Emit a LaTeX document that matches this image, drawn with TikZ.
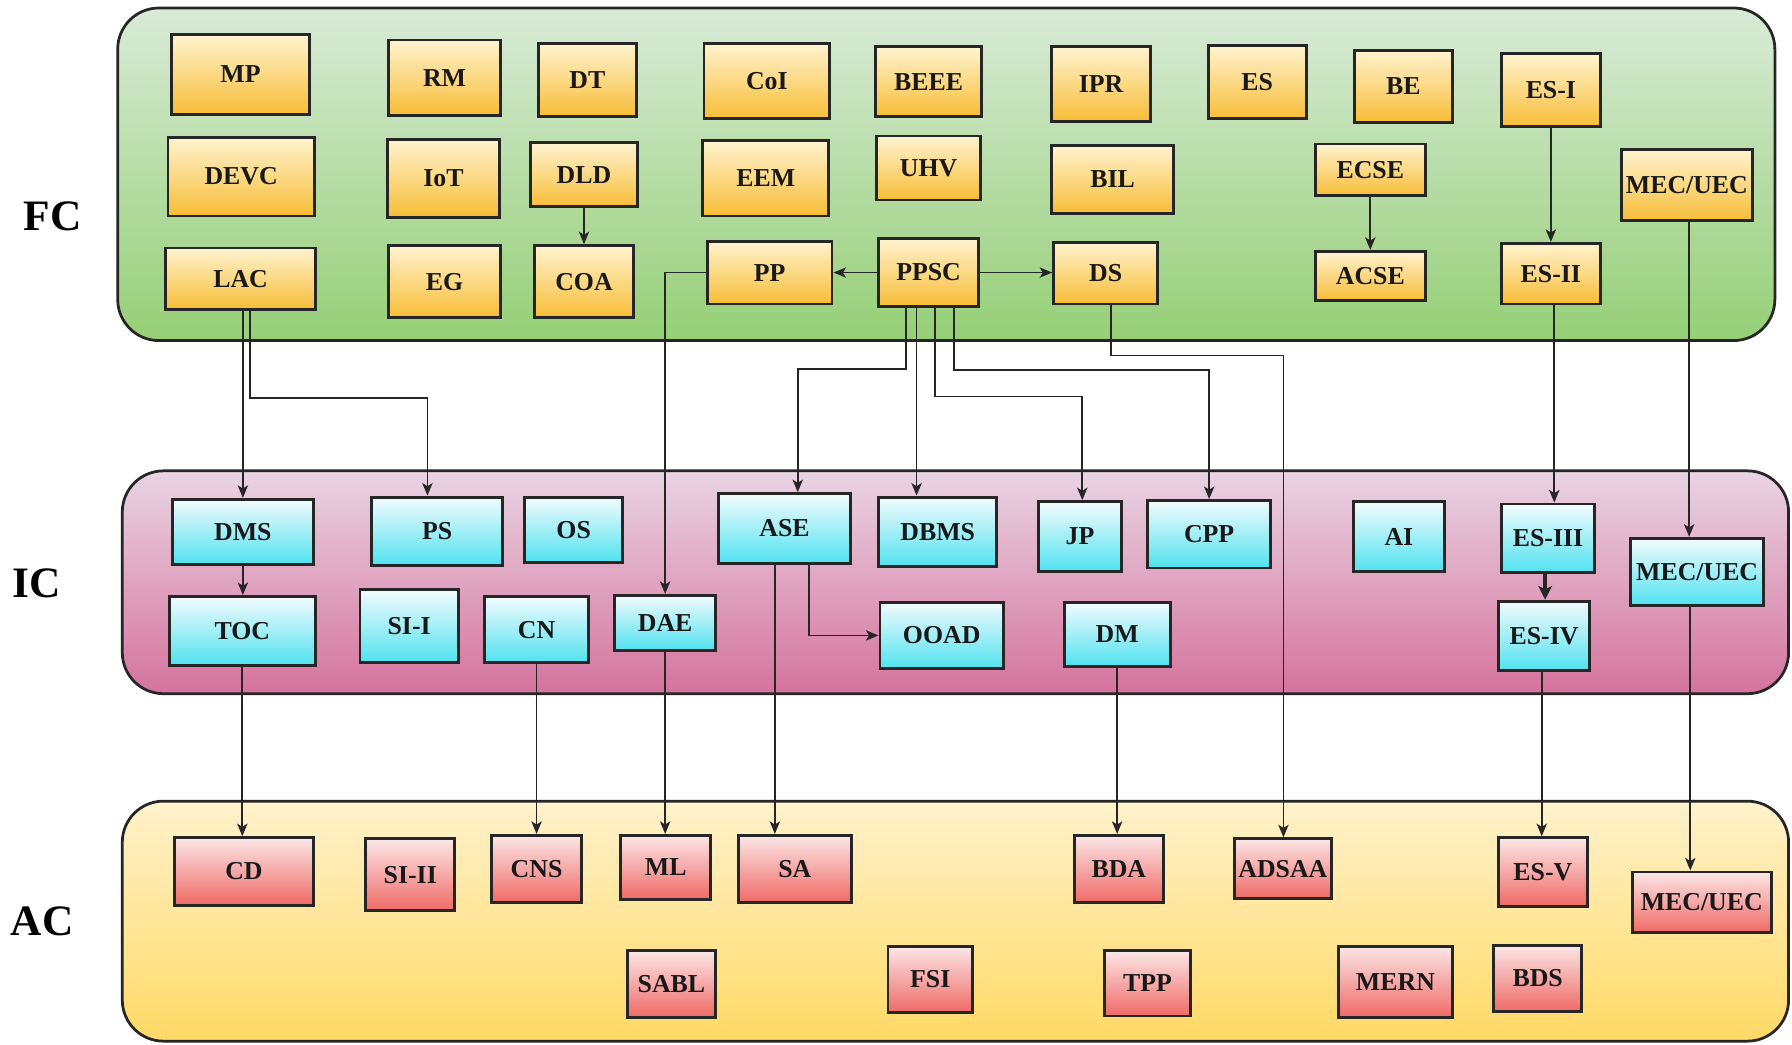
\documentclass[tikz,border=0pt]{standalone}
\usepackage{fontspec}
\setmainfont{Liberation Serif}
\usetikzlibrary{arrows.meta,calc}
\definecolor{fctop}{HTML}{FFF3CF}
\definecolor{fcbot}{HTML}{F7BD36}
\definecolor{ictop}{HTML}{F2FBFD}
\definecolor{icbot}{HTML}{50E2EF}
\definecolor{actop}{HTML}{FBE6E6}
\definecolor{acbot}{HTML}{EF6A66}
\definecolor{pfctop}{HTML}{D9EBD7}
\definecolor{pfcbot}{HTML}{95CF76}
\definecolor{pictop}{HTML}{E9D4E3}
\definecolor{picbot}{HTML}{D5739D}
\definecolor{pactop}{HTML}{FFF2CC}
\definecolor{pacbot}{HTML}{FFD966}
\definecolor{edge}{HTML}{262626}
\tikzset{
  x=0.5pt, y=-0.5pt,
  box/.style={draw=edge, line width=1.3pt, inner sep=0pt, text=black!90,
    font=\bfseries\fontsize{11.3}{13}\selectfont},
  fcb/.style={box, top color=fctop, bottom color=fcbot},
  icb/.style={box, top color=ictop, bottom color=icbot},
  acb/.style={box, top color=actop, bottom color=acbot},
  panel/.style={draw=edge, line width=1.2pt, rounded corners=18pt, inner sep=0pt},
  pfc/.style={panel, top color=pfctop, bottom color=pfcbot},
  pic/.style={panel, top color=pictop, bottom color=picbot},
  pac/.style={panel, top color=pactop, bottom color=pacbot},
  lab/.style={font=\bfseries\fontsize{19}{22}\selectfont, inner sep=0pt},
  arr/.style={draw=edge, line width=0.8pt, -{Stealth[length=5.5pt,width=4.5pt,inset=1.4pt]}},
  arrthick/.style={draw=edge, line width=1.8pt, -{Stealth[length=6pt,width=6pt,inset=1.5pt]}},
}
\newcommand\Bx[7]{\node[#1, minimum width={(#5-#3)*0.5pt}, minimum height={(#6-#4)*0.5pt}] (#2) at ({(#3+#5)/2},{(#4+#6)/2}) {#7};}
\begin{document}
\begin{tikzpicture}
\useasboundingbox (0,0) rectangle (1568,914);
\fill[white] (0,0) rectangle (1568,914);
% panels
\Bx{pfc}{fcp}{103}{7}{1553}{298}{}
\Bx{pic}{icp}{107}{412}{1565}{607}{}
\Bx{pac}{acp}{107}{701}{1565}{911}{}
\node[lab] (lfc) at (46,189) {FC};
\node[lab] (lic) at (32,510) {IC};
\node[lab] (lac2) at (37,806) {AC};
% FC boxes
\Bx{fcb}{mp}{150}{30}{271}{100}{MP}
\Bx{fcb}{rm}{340}{35}{438}{101}{RM}
\Bx{fcb}{dt}{471}{38}{557}{102}{DT}
\Bx{fcb}{coi}{616}{38}{726}{104}{CoI}
\Bx{fcb}{beee}{766}{41}{859}{102}{BEEE}
\Bx{fcb}{ipr}{920}{41}{1007}{106}{IPR}
\Bx{fcb}{es}{1057}{40}{1143}{104}{ES}
\Bx{fcb}{be}{1185}{44}{1271}{107}{BE}
\Bx{fcb}{esi}{1314}{47}{1400}{111}{ES-I}
\Bx{fcb}{devc}{147}{120}{275}{189}{DEVC}
\Bx{fcb}{iot}{339}{122}{437}{190}{IoT}
\Bx{fcb}{dld}{464}{125}{558}{181}{DLD}
\Bx{fcb}{eem}{615}{123}{725}{189}{EEM}
\Bx{fcb}{uhv}{767}{119}{858}{175}{UHV}
\Bx{fcb}{bil}{920}{127}{1027}{187}{BIL}
\Bx{fcb}{ecse}{1151}{126}{1247}{171}{ECSE}
\Bx{fcb}{mecf}{1419}{131}{1533}{193}{MEC/UEC}
\Bx{fcb}{lac}{145}{217}{276}{271}{LAC}
\Bx{fcb}{eg}{340}{215}{438}{278}{EG}
\Bx{fcb}{coa}{468}{215}{554}{278}{COA}
\Bx{fcb}{pp}{619}{211}{728}{266}{PP}
\Bx{fcb}{ppsc}{769}{209}{856}{268}{PPSC}
\Bx{fcb}{ds}{922}{212}{1013}{266}{DS}
\Bx{fcb}{acse}{1151}{220}{1247}{263}{ACSE}
\Bx{fcb}{esii}{1314}{213}{1400}{266}{ES-II}
% IC boxes
\Bx{icb}{dms}{151}{437}{274}{494}{DMS}
\Bx{icb}{ps}{325}{435}{440}{495}{PS}
\Bx{icb}{os}{459}{435}{545}{492}{OS}
\Bx{icb}{toc}{148}{522}{276}{582}{TOC}
\Bx{icb}{sii}{315}{516}{401}{580}{SI-I}
\Bx{icb}{cn}{424}{522}{515}{580}{CN}
\Bx{icb}{dae}{538}{521}{626}{569}{DAE}
\Bx{icb}{ase}{629}{432}{744}{493}{ASE}
\Bx{icb}{dbms}{769}{435}{872}{496}{DBMS}
\Bx{icb}{jp}{909}{439}{981}{500}{JP}
\Bx{icb}{cpp}{1004}{438}{1112}{497}{CPP}
\Bx{icb}{ooad}{770}{527}{878}{585}{OOAD}
\Bx{icb}{dm}{931}{527}{1024}{583}{DM}
\Bx{icb}{ai}{1184}{439}{1264}{500}{AI}
\Bx{icb}{esiii}{1314}{441}{1395}{501}{ES-III}
\Bx{icb}{esiv}{1311}{526}{1391}{587}{ES-IV}
\Bx{icb}{meci}{1427}{471}{1543}{530}{MEC/UEC}
% AC boxes
\Bx{acb}{cd}{153}{733}{274}{792}{CD}
\Bx{acb}{siii}{320}{734}{398}{797}{SI-II}
\Bx{acb}{cns}{430}{731}{509}{790}{CNS}
\Bx{acb}{ml}{543}{731}{622}{787}{ML}
\Bx{acb}{sa}{646}{731}{745}{790}{SA}
\Bx{acb}{bda}{940}{731}{1018}{790}{BDA}
\Bx{acb}{adsaa}{1080}{734}{1165}{786}{ADSAA}
\Bx{acb}{esv}{1311}{733}{1389}{793}{ES-V}
\Bx{acb}{meca}{1428}{763}{1550}{816}{MEC/UEC}
\Bx{acb}{sabl}{549}{832}{626}{890}{SABL}
\Bx{acb}{fsi}{777}{828}{851}{886}{FSI}
\Bx{acb}{tpp}{966}{832}{1042}{889}{TPP}
\Bx{acb}{mern}{1171}{828}{1271}{890}{MERN}
\Bx{acb}{bds}{1307}{827}{1384}{885}{BDS}
% bend coordinates
\coordinate (c1) at (219,348); \coordinate (c2) at (374,348);
\coordinate (c3) at (793,323); \coordinate (c4) at (698,323);
\coordinate (c5) at (802,400);
\coordinate (c6) at (818,347); \coordinate (c7) at (947,347);
\coordinate (c8) at (835,324); \coordinate (c9) at (1058,324);
\coordinate (c10) at (972,311); \coordinate (c11) at (1123,311);
\coordinate (c12) at (708,556);
\coordinate (c13) at (678,600);
\coordinate (c14) at (1360,350);
\coordinate (c15) at (1478,350);
\coordinate (c16) at (1352,510);
\coordinate (c17) at (1349,650);
\coordinate (c18) at (1479,650);
% FC internal
\draw[arr] (dld.south) -- (dld.south |- coa.north);
\draw[arr] (ecse.south) -- (ecse.south |- acse.north);
\draw[arr] (esi.south) -- (esi.south |- esii.north);
\draw[arr] (ppsc.west) -- (ppsc.west -| pp.east);
\draw[arr] (ppsc.east) -- (ppsc.east -| ds.west);
% FC -> IC
\draw[arr] (lac.south -| dms.north) -- (dms.north);
\draw[arr] (lac.south -| c1) -- (c1) -- (c2) -- (ps.north -| c2);
\draw[arr] (pp.west) -| (dae.north);
\draw[arr] (ppsc.south -| c3) -- (c3) -- (c4) -- (ase.north -| c4);
\draw[arr] (ppsc.south -| c5) -- (dbms.north -| c5);
\draw[arr] (ppsc.south -| c6) -- (c6) -- (c7) -- (jp.north -| c7);
\draw[arr] (ppsc.south -| c8) -- (c8) -- (c9) -- (cpp.north -| c9);
\draw[arr] (ds.south -| c10) -- (c10) -- (c11) -- (adsaa.north -| c11);
\draw[arr] (esii.south -| c14) -- (esiii.north -| c14);
\draw[arr] (mecf.south -| c15) -- (meci.north -| c15);
% IC internal
\draw[arr] (dms.south) -- (dms.south |- toc.north);
\draw[arrthick] (esiii.south -| c16) -- (esiv.north -| c16);
\draw[arr] (ase.south -| c12) -- (c12) -- (ooad.west |- c12);
% IC -> AC
\draw[arr] (ase.south -| c13) -- (sa.north -| c13);
\draw[arr] (toc.south) -- (toc.south |- cd.north);
\draw[arr] (cn.south) -- (cn.south |- cns.north);
\draw[arr] (dae.south) -- (dae.south |- ml.north);
\draw[arr] (dm.south) -- (dm.south |- bda.north);
\draw[arr] (esiv.south -| c17) -- (esv.north -| c17);
\draw[arr] (meci.south -| c18) -- (meca.north -| c18);
\end{tikzpicture}
\end{document}
